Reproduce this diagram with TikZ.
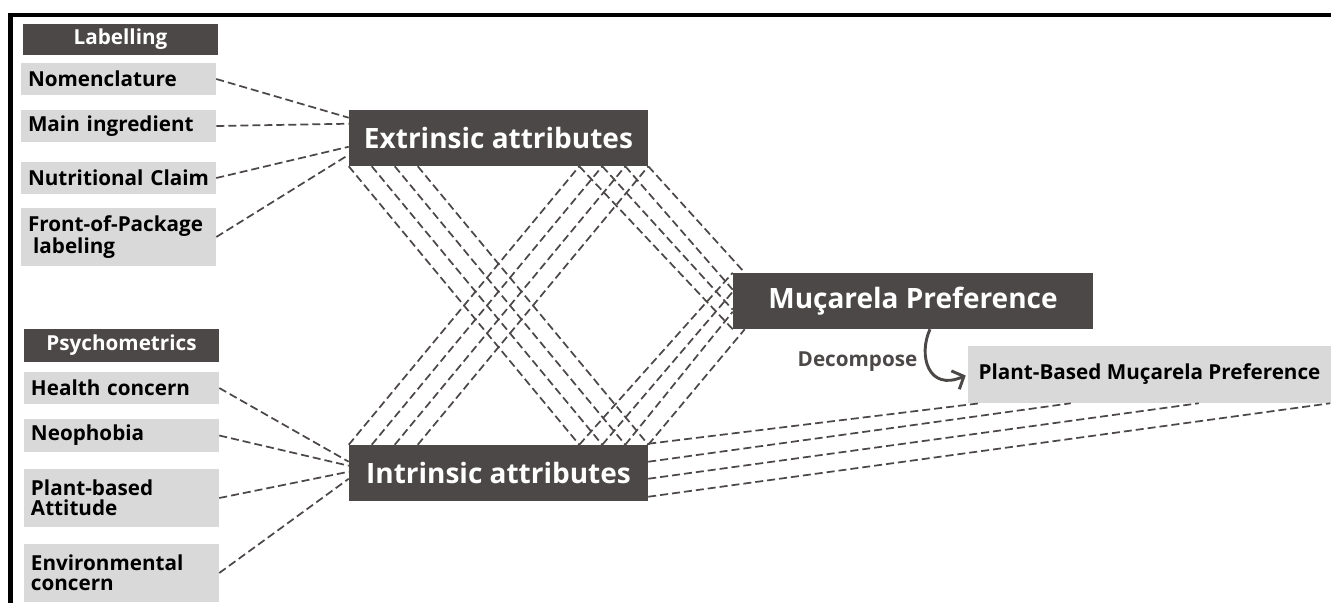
\documentclass[tikz,border=0pt]{standalone}
\usepackage{fontspec}
\setmainfont{Open Sans}
\usetikzlibrary{calc,arrows.meta}
\definecolor{boxdark}{HTML}{4D4848}
\definecolor{boxgrey}{HTML}{D9D9D9}
\begin{document}
\begin{tikzpicture}[x=0.75pt,y=-0.75pt,
  darkbox/.style={fill=boxdark,text=white,font=\bfseries\fontsize{21}{25}\selectfont,inner sep=0pt,minimum height=42pt},
  headbox/.style={fill=boxdark,text=white,font=\bfseries\fontsize{15.5}{18}\selectfont,inner sep=0pt,minimum width=146.25pt},
  itembox/.style={fill=boxgrey,text=black,font=\bfseries\fontsize{15.5}{15}\selectfont,align=left,inner xsep=5.25pt,inner ysep=0pt,text width=135.75pt},
  link/.style={draw=boxdark,line width=1.3pt,dash pattern=on 6pt off 3pt}]
\useasboundingbox (0,0) rectangle (1331,603);
% frame
\draw[line width=3.2pt] (10.5,603) -- (10.5,15.3) -- (1331,15.3);
% labelling group
\node[headbox,minimum height=23.25pt] (lab) at (120.5,39.5) {Labelling};
\node[itembox,minimum height=24pt] (nom) at (118.5,79) {Nomenclature};
\node[itembox,minimum height=24pt] (ing) at (118.5,126) {Main ingredient};
\node[itembox,minimum height=24pt] (nut) at (118.5,178) {Nutritional Claim};
\node[itembox,minimum height=43.5pt] (fop) at (118.5,237) {Front-of-Package\\\hspace*{.25em}labeling};
% psychometrics group
\node[headbox,minimum height=24.75pt] (psy) at (121.5,345.5) {Psychometrics};
\node[itembox,minimum height=24pt] (hea) at (121.5,388) {Health concern};
\node[itembox,minimum height=24.75pt] (neo) at (121.5,435.5) {Neophobia};
\node[itembox,minimum height=43.5pt] (pba) at (121.5,498) {Plant-based\\Attitude};
\node[itembox,minimum height=43.5pt] (env) at (121.5,573) {Environmental\\concern};
% attributes and preferences
\node[darkbox,minimum width=224.25pt] (ext) at (498.5,138) {Extrinsic attributes};
\node[darkbox,minimum width=224.25pt] (int) at (498.5,473) {Intrinsic attributes};
\node[darkbox,minimum width=270pt] (pref) at (913,301) {Muçarela Preference};
\node[fill=boxgrey,font=\bfseries\fontsize{15.5}{18}\selectfont,inner sep=0pt,minimum width=272.25pt,minimum height=42.75pt] (pbp) at (1149.5,374.5) {Plant-Based Muçarela Preference};
\node[text=boxdark,font=\bfseries\fontsize{15.5}{18}\selectfont] (dec) at (857.5,362) {Decompose};
% items to attributes
\draw[link] (nom.east) -- ($(ext.north west)+(0,8)$);
\draw[link] (ing.east) -- ($(ext.north west)+(0,14)$);
\draw[link] (nut.east) -- ($(ext.north west)+(0,37)$);
\draw[link] (fop.east) -- ($(ext.north west)+(0,45)$);
\draw[link] (hea.east) -- ($(int.north west)+(0,17)$);
\draw[link] (neo.east) -- ($(int.north west)+(0,21)$);
\draw[link] (pba.east) -- ($(int.north west)+(0,27)$);
\draw[link] (env.east) -- ($(int.north west)+(0,34)$);
% crossing bundles
\foreach \i in {0,...,3}{
  \coordinate (el\i) at ($(ext.south west)+(23*\i,0)$);
  \coordinate (er\i) at ($(ext.south east)+(-69+23*\i,0)$);
  \coordinate (il\i) at ($(int.north west)+(23*\i,0)$);
  \coordinate (ir\i) at ($(int.north east)+(-69+23*\i,0)$);
  \draw[link] (el\i) -- (ir\i);
  \draw[link] (il\i) -- (er\i);
}
% bundles to the preference
\draw[link] (er0) -- (pref.south west);
\draw[link] (er1) -- ($(pref.north west)+(0,37)$);
\draw[link] (er2) -- ($(pref.north west)+(0,17)$);
\draw[link] (er3) -- ($(pref.north west)+(12,0)$);
\draw[link] (ir0) -- (pref.north west);
\draw[link] (ir1) -- ($(pref.north west)+(0,19)$);
\draw[link] (ir2) -- ($(pref.north west)+(0,39)$);
\draw[link] (ir3) -- ($(pref.south west)+(12,0)$);
% intrinsic to plant-based
\draw[link] ($(int.north east)+(0,-1)$) -- ($(pbp.south west)+(12,0)$);
\draw[link] ($(int.north east)+(0,17)$) -- ($(pbp.south west)+(103,0)$);
\draw[link] ($(int.north east)+(0,34)$) -- ($(pbp.south west)+(231,0)$);
\draw[link] ($(int.north east)+(0,52)$) -- ($(pbp.south east)+(-1,0)$);
% decompose arrow
\coordinate (dstart) at ($(pref.south)+(17,0)$);
\draw[boxdark,line width=2.2pt,-{Straight Barb[length=7pt,width=15pt]}] (dstart) .. controls (918,355) and (928,392) .. ($(pbp.west)+(-2,1)$);
\end{tikzpicture}
\end{document}
